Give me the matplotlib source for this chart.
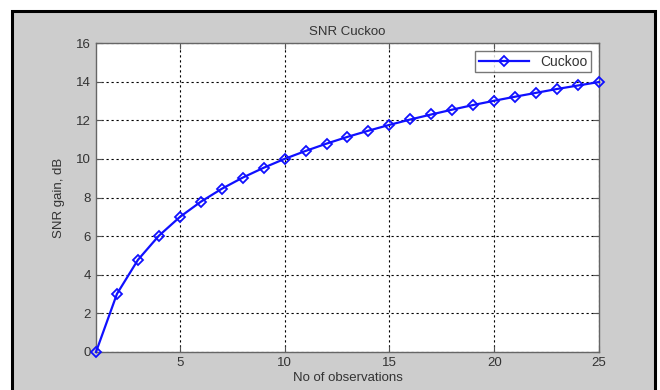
import matplotlib
matplotlib.use("Agg")
import matplotlib.pyplot as plt
from matplotlib.patches import Rectangle

# Observations and measured SNR gain (dB)
observations = [1, 2, 3, 4, 5, 6, 7, 8, 9, 10, 11, 12, 13,
                14, 15, 16, 17, 18, 19, 20, 21, 22, 23, 24, 25]
snr_gain_db = [0.00, 3.01, 4.77, 6.02, 6.99, 7.78, 8.45, 9.03, 9.54,
               10.00, 10.41, 10.79, 11.14, 11.46, 11.76, 12.04, 12.30,
               12.55, 12.79, 13.01, 13.22, 13.42, 13.62, 13.80, 13.98]
x_ticks = [5, 10, 15, 20, 25]
y_ticks = [0, 2, 4, 6, 8, 10, 12, 14, 16]

plt.rcParams['font.family'] = ['Liberation Sans', 'DejaVu Sans']

fig = plt.figure(figsize=(6.6, 3.9), dpi=100, facecolor='white')

# Gray panel with a black frame behind the axes (bottom edge runs off the page)
panel = Rectangle((12 / 660, -0.05), (655 - 12) / 660, (390 - 11) / 390 + 0.05,
                  transform=fig.transFigure, facecolor='#cdcdcd',
                  edgecolor='black', linewidth=2.2, zorder=-10)
fig.patches.append(panel)

ax = fig.add_axes([96 / 660, (390 - 352) / 390,
                   (599 - 96) / 660, (352 - 43) / 390])
ax.set_zorder(5)
ax.set_facecolor('white')

ax.plot(observations, snr_gain_db, color='#1010ff', linewidth=1.6,
        marker='D', markersize=5.5, markerfacecolor='none',
        markeredgewidth=1.3, label='Cuckoo', zorder=3, clip_on=False)

ax.set_xlim(1, 25)
ax.set_ylim(0, 16)
ax.set_xticks(x_ticks)
ax.set_yticks(y_ticks)

ax.grid(True, color='black', linestyle=(0, (2, 2.5)), linewidth=0.8)
ax.tick_params(direction='in', top=True, right=True, length=4,
               labelsize=9.5, colors='#555555', labelcolor='#333333')
for s in ax.spines.values():
    s.set_color('#666666')
    s.set_linewidth(1.0)

ax.set_title('SNR Cuckoo', fontsize=9.5, color='#333333', pad=6)
ax.set_xlabel('No of observations', fontsize=9.5, color='#333333', labelpad=2)
ax.set_ylabel('SNR gain, dB', fontsize=9.5, color='#333333', labelpad=8)

leg = ax.legend(loc='upper right', fontsize=10, frameon=True, fancybox=False,
                borderaxespad=0.6, handlelength=3.6, borderpad=0.25,
                labelcolor='#333333')
leg.get_frame().set_edgecolor('#555555')
leg.get_frame().set_linewidth(1.0)

fig.savefig('out.png', dpi=100, facecolor='white')
